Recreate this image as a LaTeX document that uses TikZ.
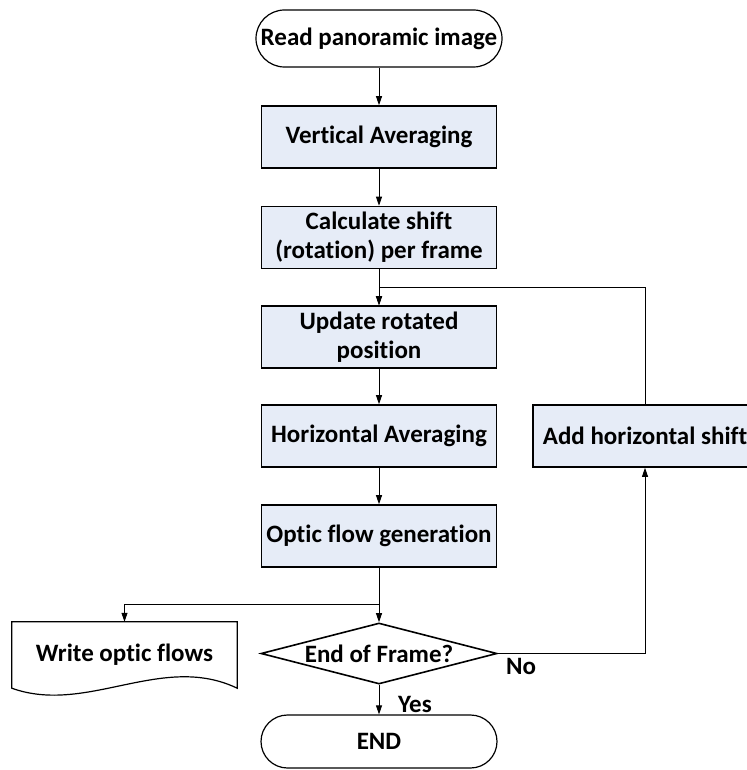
\documentclass[tikz,border=0pt]{standalone}
\usepackage{fontspec}
\setmainfont{Carlito}[Ligatures={NoCommon,NoContextual}]
\usetikzlibrary{shapes.geometric,arrows.meta,calc}
\definecolor{procfill}{HTML}{E6ECF7}

\begin{document}
\begin{tikzpicture}[x=1pt,y=-1pt,
  font=\bfseries\fontsize{25}{29}\selectfont,
  proc/.style={rectangle, draw, line width=1.6pt, fill=procfill,
    minimum width=235, minimum height=62, align=center, inner sep=0},
  term/.style={rectangle, draw, line width=1.2pt, fill=white, inner sep=0},
  flow/.style={-{Triangle[length=9pt,width=6pt]}, line width=0.8pt},
  link/.style={line width=0.8pt}]

\useasboundingbox (0,0) rectangle (746,770);

% terminals
\node[term, minimum width=246, minimum height=57, rounded corners=28.5pt]
  (start) at (379,38.5) {Read panoramic image};
\node[term, minimum width=236, minimum height=53, rounded corners=26.5pt]
  (stop) at (379,741.5) {END};

% main column of process steps
\node[proc] (va) at (379,137)   {Vertical Averaging};
\node[proc] (cs) at (379,237.5) {Calculate shift\\(rotation) per frame};
\node[proc] (ur) at (379,337)   {Update rotated\\position};
\node[proc] (ha) at (379,436)   {Horizontal Averaging};
\node[proc] (of) at (379,536)   {Optic flow generation};

% loop-back step
\node[proc, minimum width=224] (ahs) at (645,436) {Add horizontal shift};

% decision
\node[diamond, draw, line width=1.6pt, fill=white, aspect=3.87,
  minimum width=236, minimum height=61, inner sep=0]
  (dec) at (379,653.5) {End of Frame?};

% output document
\node[minimum width=225, minimum height=66, inner sep=0]
  (wof) at (124.5,655) {Write optic flows};
\draw[line width=1.2pt] (wof.north west) -- (wof.north east) -- (wof.south east)
  .. controls ($(wof.south east)+(-75,-36)$) and ($(wof.south west)+(75,27)$)
  .. (wof.south west) -- cycle;

% junction points
\coordinate (split) at (379,604);
\coordinate (loop) at (379,287);

% connectors
\draw[flow] (start) -- (va);
\draw[flow] (va) -- (cs);
\draw[flow] (cs) -- (ur);
\draw[flow] (ur) -- (ha);
\draw[flow] (ha) -- (of);
\draw[link] (of) -- (split);
\draw[flow] (split) -- (dec);
\draw[flow] (split) -| (wof.north);
\draw[flow] (dec) -- (stop);
\draw[flow] (dec.east) -| (ahs.south);
\draw[flow] (ahs.north) |- (loop) -- (ur.north);

% branch labels
\node (yes) at (415,704) {Yes};
\node (no) at (521,666) {No};
\end{tikzpicture}
\end{document}
